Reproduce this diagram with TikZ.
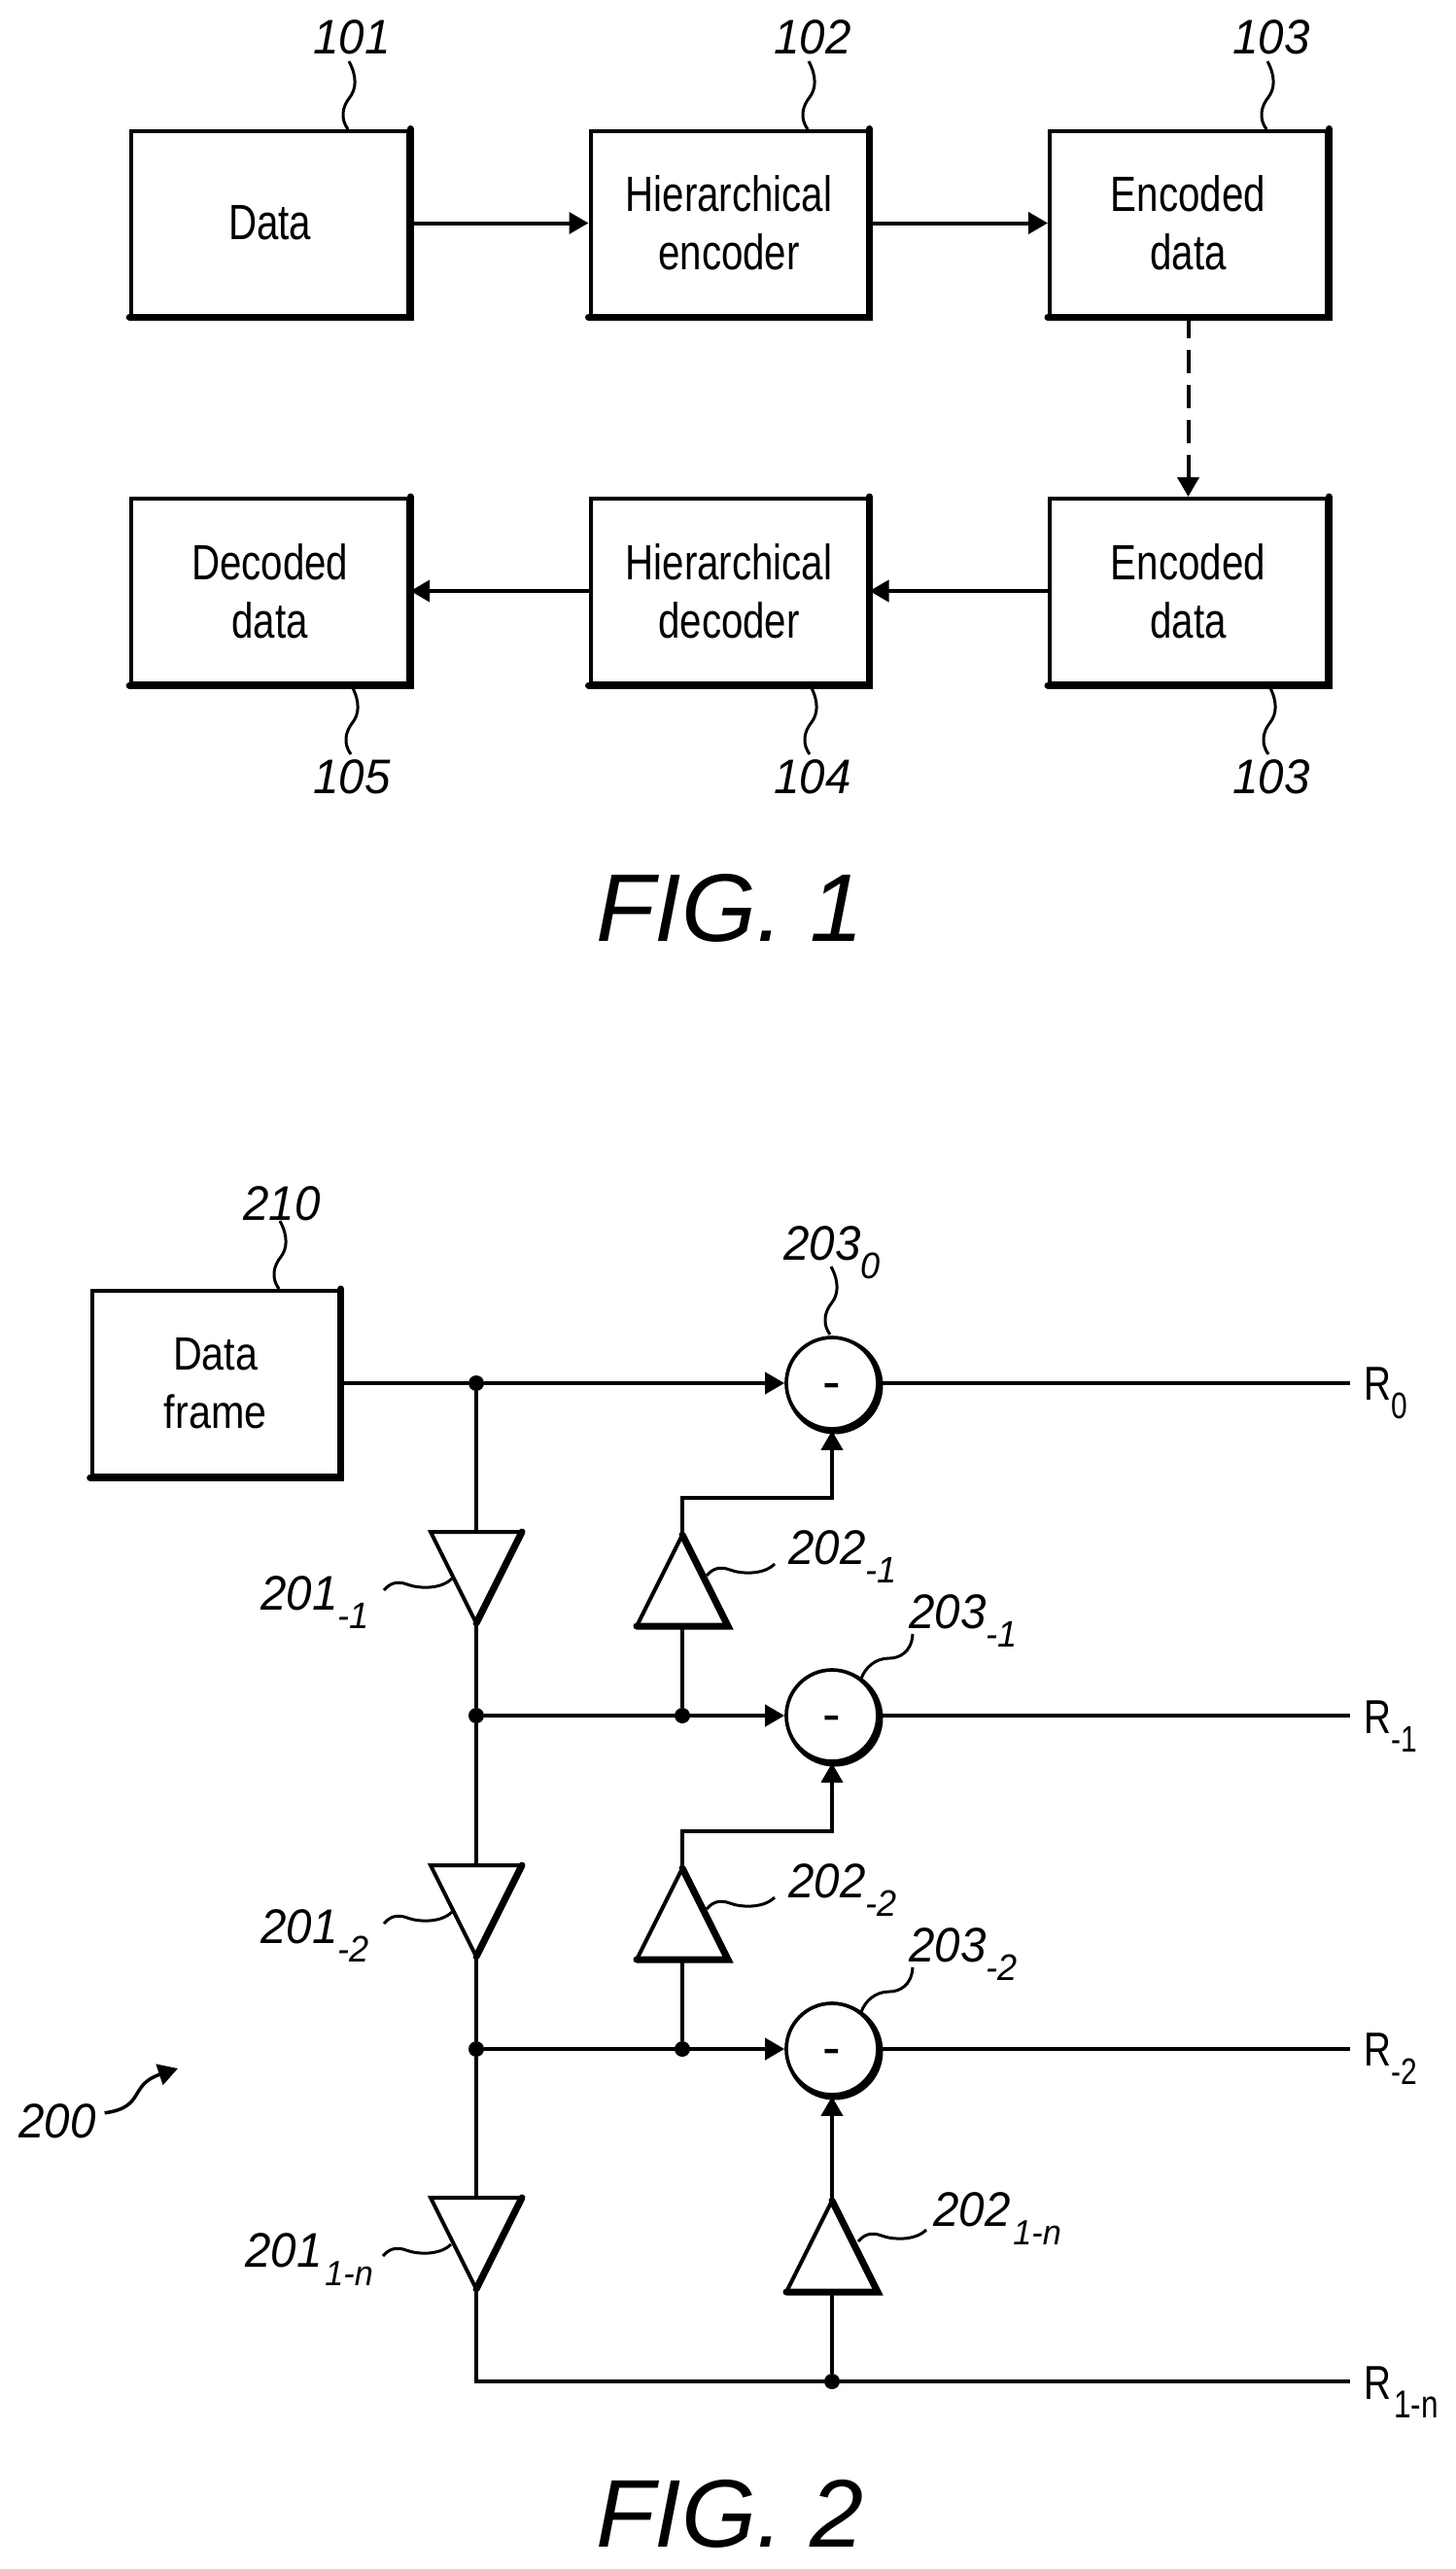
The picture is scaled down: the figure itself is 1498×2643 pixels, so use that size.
\documentclass[tikz,border=0pt]{standalone}
\usepackage{fontspec}
\setmainfont{Liberation Sans}
\newfontfamily\boxfont[FakeStretch=0.79]{Liberation Sans}
\newfontfamily\framefont[FakeStretch=0.86]{Liberation Sans}
\newfontfamily\reffont[FakeStretch=0.95]{Liberation Sans Italic}
\newfontfamily\figfont{Liberation Sans Italic}
\usetikzlibrary{arrows.meta,shapes.geometric}
\newcommand{\refsub}[2]{#1\raisebox{-19pt}{\fontsize{38}{38}\selectfont #2}}
\newcommand{\refsubn}[2]{#1\kern3pt\raisebox{-19pt}{\fontsize{36}{36}\selectfont #2}}
\newcommand{\outsub}[1]{R\raisebox{-19pt}{\fontsize{38}{38}\selectfont #1}}
\tikzset{
	blockbox/.style={draw,line width=4pt,minimum width=285pt,minimum height=190pt,inner sep=0pt,align=center,font=\boxfont\fontsize{51}{60}\selectfont},
	framebox/.style={blockbox,minimum width=254pt,font=\framefont\fontsize{48}{59.5}\selectfont},
	heavy/.style={line width=7pt,line cap=round},
	link/.style={line width=4pt,-{Triangle[length=20pt,width=22pt]}},
	wire/.style={line width=4pt},
	lead/.style={line width=3pt},
	subnode/.style={draw,fill=white,circle,line width=3.7pt,minimum size=94pt,inner sep=0pt,font=\fontsize{56}{56}\selectfont},
	ampdown/.style={draw,isosceles triangle,isosceles triangle stretches,shape border rotate=-90,line width=4pt,outer sep=0pt,minimum width=94pt,minimum height=94pt,inner sep=0pt},
	ampup/.style={ampdown,shape border rotate=90},
	dot/.style={circle,fill,minimum size=16pt,inner sep=0pt},
	reflabel/.style={font=\reffont\fontsize{50}{50}\selectfont,inner sep=0pt,anchor=base},
	refleft/.style={reflabel,anchor=base west},
	outlabel/.style={font=\boxfont\fontsize{49}{49}\selectfont,inner sep=0pt,anchor=base west},
	figlabel/.style={font=\figfont\fontsize{99}{99}\selectfont,inner sep=0pt}
}
\begin{document}
\begin{tikzpicture}[x=1pt,y=-1pt]
	\useasboundingbox (0,0) rectangle (1498,2643);
	% fig 1
	\node[blockbox] (data) at (277.7,229.5) {Data};
	\node[blockbox] (enc) at (750,229.5) {Hierarchical\\encoder};
	\node[blockbox] (code) at (1222.5,229.5) {Encoded\\data};
	\node[blockbox] (code2) at (1222.5,608) {Encoded\\data};
	\node[blockbox] (dec) at (750,608) {Hierarchical\\decoder};
	\node[blockbox] (out) at (277.7,608) {Decoded\\data};
	\foreach \n in {data,enc,code,code2,dec,out}{
		\draw[heavy] (\n.north east) -- (\n.south east) -- (\n.south west);
	}
	\draw[link] (data) -- (enc);
	\draw[link] (enc) -- (code);
	\draw[link,dash pattern=on 24pt off 12pt,dash phase=3pt] (code) -- (code2);
	\draw[link] (code2) -- (dec);
	\draw[link] (dec) -- (out);
	\node[reflabel] (l101) at (362,55) {101};
	\node[reflabel] (l102) at (836,55) {102};
	\node[reflabel] (l103) at (1308,55) {103};
	\node[reflabel] (l103b) at (1308,816) {103};
	\node[reflabel] (l104) at (836,816) {104};
	\node[reflabel] (l105) at (362,816) {105};
	\node[figlabel] (fig1) at (751,934) {FIG. 1};
	% fig 2
	\node[framebox] (frame) at (221.7,1423) {Data\\frame};
	\draw[heavy] (frame.north east) -- (frame.south east) -- (frame.south west);
	\foreach \y/\n in {1423/a,1765/b,2108/c}{
		\fill (858.5,\y+2.5) circle (50pt);
		\node[subnode] (sub\n) at (856,\y) {\raisebox{-17.5pt}[0pt][0pt]{-}};
	}
	\foreach \y/\n in {1576/a,1919/b,2261/c}{
		\node[ampdown,anchor=lower side] (down\n) at (490,\y) {};
		\draw[heavy] (down\n.left corner) -- (down\n.apex);
	}
	\foreach \y/\x/\n in {1579/702/a,1922/702/b,2264/856/c}{
		\node[ampup,anchor=apex] (up\n) at (\x,\y) {};
		\draw[heavy] (up\n.apex) -- (up\n.right corner) -- (up\n.left corner);
	}
	\foreach \y/\n in {1423/a,1765/b,2108/c,2450/d}{
		\coordinate (end\n) at (1389,\y);
	}
	\node[dot] (ja) at (490,1423) {};
	\node[dot] (jb) at (490,1765) {};
	\node[dot] (jc) at (490,2108) {};
	\node[dot] (kb) at (702,1765) {};
	\node[dot] (kc) at (702,2108) {};
	\node[dot] (kd) at (856,2450) {};
	\coordinate (bl) at (490,2450);
	\draw[wire] (frame.east |- ja) -- (ja);
	\draw[link] (ja) -- (suba);
	\draw[link] (jb) -- (subb);
	\draw[link] (jc) -- (subc);
	\draw[wire] (ja) -- (downa.lower side);
	\draw[wire] (downa.apex) -- (jb);
	\draw[wire] (jb) -- (downb.lower side);
	\draw[wire] (downb.apex) -- (jc);
	\draw[wire] (jc) -- (downc.lower side);
	\draw[wire] (downc.apex) -- (bl) -- (endd);
	\draw[wire] (kb) -- (upa.lower side);
	\draw[wire] (kc) -- (upb.lower side);
	\draw[wire] (kd) -- (upc.lower side);
	\draw[link] (upa.apex) -- ++(0,-38) -| (suba);
	\draw[link] (upb.apex) -- ++(0,-38) -| (subb);
	\draw[link] (upc.apex) -- (subc);
	\draw[wire] (suba) ++(47,0) -- (enda);
	\draw[wire] (subb) ++(47,0) -- (endb);
	\draw[wire] (subc) ++(47,0) -- (endc);
	\node[outlabel] (ra) at (1403,1440) {\outsub{0}};
	\node[outlabel] (rb) at (1403,1783) {\outsub{-1}};
	\node[outlabel] (rc) at (1403,2125) {\outsub{-2}};
	\node[outlabel] (rd) at (1403,2468) {R\kern3pt\raisebox{-19pt}{\fontsize{40}{40}\selectfont 1-n}};
	\node[reflabel] (l210) at (290,1255) {210};
	\node[refleft] (l2030) at (806,1296) {\refsub{203}{0}};
	\node[refleft] (l203a) at (935,1675) {\refsub{203}{-1}};
	\node[refleft] (l203b) at (935,2018) {\refsub{203}{-2}};
	\node[refleft] (l202a) at (811,1609) {\refsub{202}{-1}};
	\node[refleft] (l202b) at (811,1952) {\refsub{202}{-2}};
	\node[refleft] (l202c) at (960,2290) {\refsubn{202}{1-n}};
	\node[refleft] (l201a) at (268,1656) {\refsub{201}{-1}};
	\node[refleft] (l201b) at (268,1999) {\refsub{201}{-2}};
	\node[refleft] (l201c) at (252,2332) {\refsubn{201}{1-n}};
	% leads
	\foreach \n/\x/\y in {a/359/63,b/832/63,c/1304/63,d/362/706,e/834/706,f/1306/706,g/288/1256,h/855/1303}{
		\coordinate (rise\n) at (\x,\y);
		\draw[lead,shift={(rise\n)}] (0,0) .. controls (9,17) and (7,29) .. (1,37) .. controls (-7,47) and (-9,59) .. (-1,70);
	}
	\foreach \n/\x/\y in {a/395/1636,b/395/1979,c/394/2321,d/727/1621,e/727/1964,f/883/2306}{
		\coordinate (side\n) at (\x,\y);
		\draw[lead,shift={(side\n)}] (0,0) .. controls (6,-7) and (13,-10) .. (24,-6) .. controls (34,-2) and (58,0) .. (70,-12);
	}
	\foreach \n/\y in {a/1681,b/2024}{
		\coordinate (bend\n) at (939,\y);
		\draw[lead,shift={(bend\n)}] (0,0) .. controls (-1,19) and (-14,25) .. (-24,25) .. controls (-39,25) and (-49,35) .. (-53,46);
	}
	\node[reflabel,anchor=base west] (l200) at (19,2199) {200};
	\coordinate (tip200) at (183,2128);
	\draw[line width=3.5pt,-{Triangle[length=20pt,width=22pt]}] (l200.east) ++(9,-8) .. controls (150,2168) and (132,2145) .. (tip200);
	\node[figlabel] (fig2) at (751,2586) {FIG. 2};
\end{tikzpicture}
\end{document}
